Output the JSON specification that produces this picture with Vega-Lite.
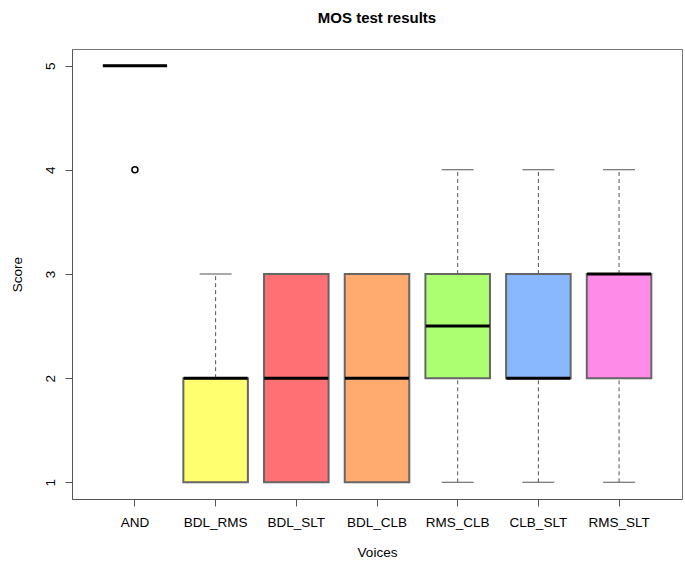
{
  "$schema": "https://vega.github.io/schema/vega-lite/v6.json",
  "autosize": "none",
  "padding": {"left": 72, "top": 49, "right": 3, "bottom": 63},
  "width": 610,
  "height": 450,
  "background": "white",
  "title": {"text": "MOS test results", "font": "Liberation Sans", "fontSize": 15, "fontWeight": "bold", "color": "black", "anchor": "middle", "baseline": "alphabetic", "offset": 11},
  "config": {
    "view": {"stroke": "#777777", "strokeWidth": 1},
    "axis": {"labelFont": "Liberation Sans", "titleFont": "Liberation Sans", "labelFontSize": 13.5, "titleFontSize": 13.5, "titleFontWeight": "normal", "labelColor": "black", "titleColor": "black", "domainColor": "#555555", "tickColor": "#555555", "tickSize": 7, "grid": false}
  },
  "datasets": {
    "stats": [
      {"voice": "AND", "lo": 5, "q1": 5, "med": 5, "q3": 5, "hi": 5},
      {"voice": "BDL_RMS", "lo": 1, "q1": 1, "med": 2, "q3": 2, "hi": 3},
      {"voice": "BDL_SLT", "lo": 1, "q1": 1, "med": 2, "q3": 3, "hi": 3},
      {"voice": "BDL_CLB", "lo": 1, "q1": 1, "med": 2, "q3": 3, "hi": 3},
      {"voice": "RMS_CLB", "lo": 1, "q1": 2, "med": 2.5, "q3": 3, "hi": 4},
      {"voice": "CLB_SLT", "lo": 1, "q1": 2, "med": 2, "q3": 3, "hi": 4},
      {"voice": "RMS_SLT", "lo": 1, "q1": 2, "med": 3, "q3": 3, "hi": 4}
    ],
    "outliers": [
      {"voice": "AND", "score": 4}
    ]
  },
  "data": {"name": "stats"},
  "encoding": {
    "x": {
      "field": "voice", "type": "nominal",
      "sort": ["AND", "BDL_RMS", "BDL_SLT", "BDL_CLB", "RMS_CLB", "CLB_SLT", "RMS_SLT"],
      "scale": {"type": "band", "paddingInner": 0, "paddingOuter": 0.28},
      "axis": {"title": "Voices", "labelAngle": 0, "labelPadding": 9, "titlePadding": 17}
    }
  },
  "layer": [
    {
      "mark": {"type": "rule", "color": "#555555", "strokeWidth": 1, "strokeDash": [4, 3]},
      "encoding": {
        "y": {"field": "q3", "type": "quantitative", "scale": {"domain": [0.84, 5.16], "nice": false, "zero": false}, "axis": {"title": "Score", "values": [1, 2, 3, 4, 5], "format": "d", "labelAngle": -90, "labelAlign": "center", "labelBaseline": "alphabetic", "labelPadding": 11, "titlePadding": 19}},
        "y2": {"field": "hi"}
      }
    },
    {
      "mark": {"type": "rule", "color": "#555555", "strokeWidth": 1, "strokeDash": [4, 3]},
      "encoding": {
        "y": {"field": "lo", "type": "quantitative"},
        "y2": {"field": "q1"}
      }
    },
    {
      "mark": {"type": "tick", "color": "#555555", "thickness": 1, "size": 32, "orient": "horizontal", "opacity": 1},
      "encoding": {
        "y": {"field": "hi", "type": "quantitative"}
      }
    },
    {
      "mark": {"type": "tick", "color": "#555555", "thickness": 1, "size": 32, "orient": "horizontal", "opacity": 1},
      "encoding": {
        "y": {"field": "lo", "type": "quantitative"}
      }
    },
    {
      "mark": {"type": "bar", "width": {"band": 0.8}, "stroke": "#666666", "strokeWidth": 2, "opacity": 1},
      "encoding": {
        "y": {"field": "q1", "type": "quantitative"},
        "y2": {"field": "q3"},
        "color": {
          "field": "voice", "type": "nominal", "legend": null,
          "scale": {
            "domain": ["AND", "BDL_RMS", "BDL_SLT", "BDL_CLB", "RMS_CLB", "CLB_SLT", "RMS_SLT"],
            "range": ["#ffffff", "#ffff70", "#ff7074", "#ffab70", "#acff70", "#8ab8ff", "#ff8be8"]
          }
        }
      }
    },
    {
      "mark": {"type": "tick", "color": "black", "thickness": 3, "size": 64, "orient": "horizontal", "opacity": 1},
      "encoding": {
        "y": {"field": "med", "type": "quantitative"}
      }
    },
    {
      "data": {"name": "outliers"},
      "mark": {"type": "point", "shape": "circle", "filled": false, "color": "black", "strokeWidth": 1.5, "size": 36, "opacity": 1},
      "encoding": {
        "y": {"field": "score", "type": "quantitative"}
      }
    }
  ]
}
